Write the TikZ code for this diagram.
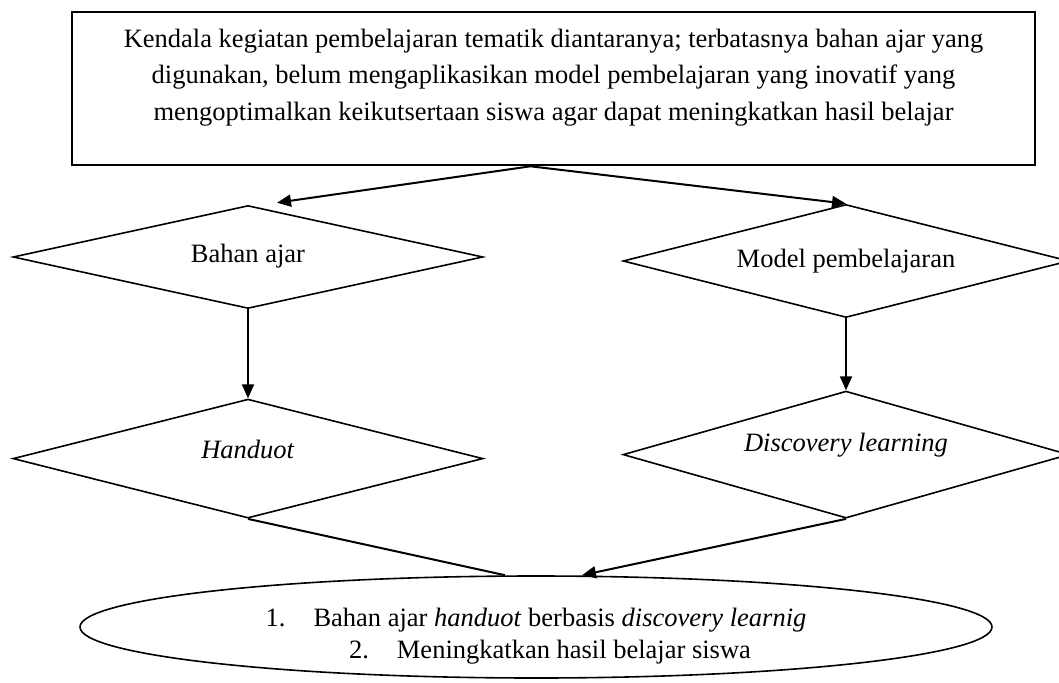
\documentclass[tikz,border=0pt]{standalone}
\usepackage{fontspec}
\setmainfont{Liberation Serif}
\usetikzlibrary{
  arrows.meta,
  calc,
  positioning,
  shapes.geometric
}
\tikzset{
%
  % For normal lines.
  line/.style={
    line width=2pt},
%
  % For thin lines.
  thin line/.style={
    line width=1.6pt},
%
  % For the arrows from one step to the next.
  flow/.style={
    line,
    -{Triangle[length=14pt,
               width=12pt]}},
%
  % For the box with the problem.
  box/.style={
    line width=2.6pt,
    draw,
    minimum width=963pt,
    minimum height=153pt},
%
  % For the diamonds.
  choice/.style={
    thin line,
    draw,
    diamond,
    aspect=4.5,
    inner sep=0pt},
%
  % For the ellipse with the result.
  result/.style={
    thin line,
    draw,
    ellipse,
    inner sep=0pt,
    minimum width=912pt,
    minimum height=102pt}
}

\begin{document}
\begin{tikzpicture}[x=1pt, y=-1pt,
                    font=\fontsize{26.5}{36.5}\selectfont]
  \useasboundingbox (0,0) rectangle (1059,682);

  \node[box] (K) at (553.5,88.5) {};
  \node[align=center,
        inner sep=0pt,
        below=18pt of K.north] (KT)
    {Kendala kegiatan pembelajaran tematik diantaranya; terbatasnya bahan ajar yang\\
     digunakan, belum mengaplikasikan model pembelajaran yang inovatif yang\\
     mengoptimalkan keikutsertaan siswa agar dapat meningkatkan hasil belajar};

  \node[choice,
        minimum width=470pt,
        minimum height=103pt,
        text depth=8pt] (B) at (248,257) {Bahan ajar};
  \node[choice,
        minimum width=446pt,
        minimum height=113pt,
        text depth=6pt] (M) at (846,261) {Model pembelajaran};
  \node[choice,
        minimum width=470pt,
        minimum height=119pt,
        text depth=18pt,
        below=89pt of B] (H) {\textit{Handuot}};
  \node[choice,
        minimum width=446pt,
        minimum height=127pt,
        text depth=25pt,
        below=72pt of M] (D) {\textit{Discovery learning}};

  \node[result] (R) at (536,627) {};
  \node[align=center,
        inner sep=0pt,
        font=\fontsize{26.5}{32}\selectfont,
        yshift=-9pt] (RT) at (R)
    {1.\hspace{28pt}Bahan ajar \textit{handuot} berbasis \textit{discovery learnig}\\
     \hspace{28pt}2.\hspace{28pt}Meningkatkan hasil belajar siswa};

  \coordinate (split) at ([xshift=-23pt]K.south);
  \coordinate (B tip) at ([xshift=29pt, yshift=2pt]B.north);
  \coordinate (R left) at ([xshift=-31pt]R.north);
  \coordinate (R right) at ([xshift=46pt]R.north);

  \draw[flow] (split) -- (B tip);
  \draw[flow] (split) -- (M.north);
  \draw[flow] (B) -- (H);
  \draw[flow] (M) -- (D);
  \draw[line] (H.south) -- (R left);
  \draw[flow] (D.south) -- (R right);
\end{tikzpicture}
\end{document}
